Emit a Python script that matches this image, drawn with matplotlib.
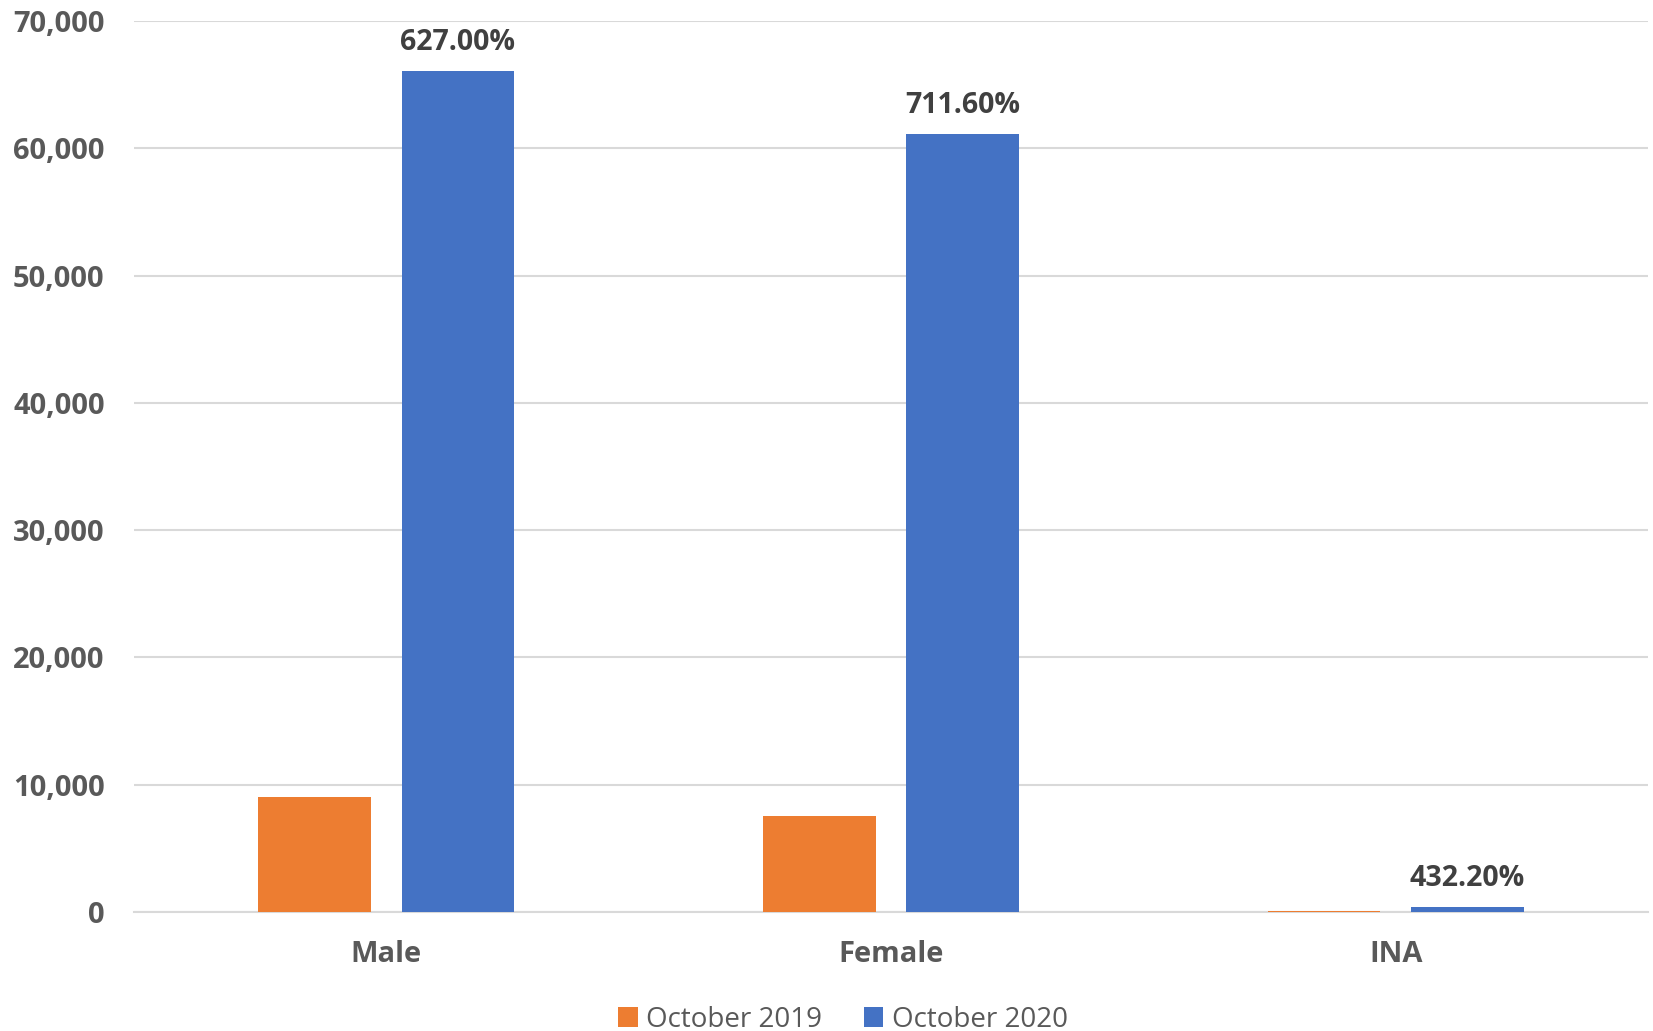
import numpy as np
import matplotlib.pyplot as plt

# data
categories = ['Male', 'Female', 'INA']
oct_2019 = [9060, 7510, 80]
oct_2020 = [66050, 61100, 426]
pct_labels = ['627.00%', '711.60%', '432.20%']

plt.rcParams['font.family'] = ['Open Sans', 'DejaVu Sans']

fig = plt.figure(figsize=(16.53, 10.31), dpi=100)
ax = fig.add_axes([0.081, 0.1154, 0.916, 0.8642])

x = np.arange(len(categories))
w = 0.2234
off = 0.142
ax.bar(x - off, oct_2019, width=w, color='#ED7D31', label='October 2019', zorder=3)
bars = ax.bar(x + off, oct_2020, width=w, color='#4472C4', label='October 2020', zorder=3)

for b, txt in zip(bars, pct_labels):
    ax.annotate(txt, (b.get_x() + b.get_width() / 2, b.get_height()),
                xytext=(0, 10), textcoords='offset points', ha='center', va='bottom',
                fontsize=20.5, fontweight='bold', color='#404040')

ax.set_xlim(-0.5, 2.5)
ax.set_ylim(0, 70000)
ax.set_yticks(np.arange(0, 70001, 10000))
ax.set_yticklabels([f'{v:,}' for v in range(0, 70001, 10000)])
ax.set_xticks(x)
ax.set_xticklabels(categories)
ax.tick_params(axis='both', length=0, labelsize=21, labelcolor='#595959')
ax.tick_params(axis='y', pad=21)
ax.tick_params(axis='x', pad=20)
for lbl in ax.get_xticklabels() + ax.get_yticklabels():
    lbl.set_fontweight('bold')

ax.grid(axis='y', color='#D9D9D9', linewidth=1.5, zorder=0)
for s in ['top', 'right', 'left']:
    ax.spines[s].set_visible(False)
ax.spines['bottom'].set_color('#D9D9D9')
ax.spines['bottom'].set_linewidth(1.5)

fig.legend(loc='lower center', bbox_to_anchor=(0.51, -0.027), ncol=2, frameon=False,
           fontsize=20, labelcolor='#595959', handlelength=0.7, handleheight=0.7,
           handletextpad=0.3, columnspacing=1.5)

plt.savefig('out.png', dpi=100)
